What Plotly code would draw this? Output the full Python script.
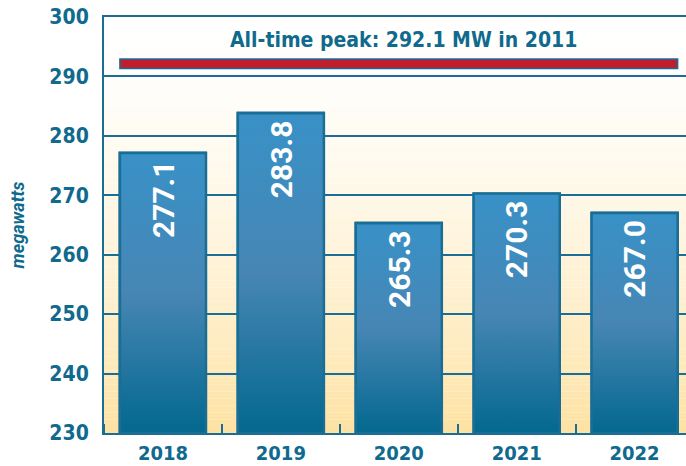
import plotly.graph_objects as go

years = ["2018", "2019", "2020", "2021", "2022"]
peak_mw = [277.1, 283.8, 265.3, 270.3, 267.0]
y_ticks = [230, 240, 250, 260, 270, 280, 290, 300]
all_time_peak = 292.1
all_time_peak_year = "2011"

TEAL = "#0f6a8e"
EDGE = "#1a6e95"
BAR_W = 0.73
Y_MIN, Y_MAX = 230, 300
COND = "DejaVu Sans Condensed, DejaVu Sans, sans-serif"

fig = go.Figure()

xs = list(range(len(years)))
fig.add_trace(go.Bar(
    x=xs, y=peak_mw, width=BAR_W,
    marker=dict(color="#2f7fae", line=dict(color=EDGE, width=2.5)),
    hoverinfo="skip", showlegend=False,
))

for i, v in enumerate(peak_mw):
    x0, x1 = i - BAR_W / 2, i + BAR_W / 2
    fig.add_trace(go.Scatter(
        x=[x0, x1, x1, x0, x0], y=[Y_MIN, Y_MIN, v, v, Y_MIN],
        mode="lines", fill="toself",
        fillgradient=dict(type="vertical",
                          colorscale=[[0, "#03688f"], [0.5, "#4786b4"], [1, "#3891c7"]]),
        line=dict(color=EDGE, width=2.5),
        hoverinfo="skip", showlegend=False,
    ))

for i, v in enumerate(peak_mw):
    fig.add_annotation(
        x=i, y=v, text=f"{v:.1f}", textangle=-90, showarrow=False,
        yanchor="top", xanchor="center", yshift=-5,
        font=dict(family="Roboto", size=30, color="white", weight="bold"),
    )

N = 60
top = (255, 255, 255)
bot = (254, 226, 163)
for k in range(N):
    t = (k + 0.5) / N
    w = t ** 1.6
    c = tuple(round(top[j] + (bot[j] - top[j]) * w) for j in range(3))
    fig.add_shape(type="rect", xref="x domain", yref="y domain",
                  x0=0, x1=1, y0=1 - (k + 1) / N, y1=1 - k / N,
                  fillcolor=f"rgb{c}", line=dict(width=0), layer="below")

fig.add_shape(type="rect", xref="x", yref="y",
              x0=-BAR_W / 2, x1=len(years) - 1 + BAR_W / 2,
              y0=all_time_peak - 0.75, y1=all_time_peak + 0.85,
              fillcolor="#be1e2d", line=dict(color=EDGE, width=1.5), layer="above")
fig.add_annotation(
    x=(len(years) - 1) / 2 + 0.04, y=all_time_peak + 0.85, yanchor="bottom", yshift=5,
    text=f"All-time peak: {all_time_peak} MW in {all_time_peak_year}",
    showarrow=False,
    font=dict(family=COND, size=21, color=TEAL, weight="bold"),
)

fig.update_layout(
    width=686, height=466,
    margin=dict(l=104, r=0, t=17, b=33),
    paper_bgcolor="white", plot_bgcolor="white",
    bargap=0, showlegend=False,
    xaxis=dict(
        range=[-0.5, 4.436], tickvals=xs, ticktext=years,
        showgrid=False, zeroline=False, automargin=False,
        showline=True, linecolor=EDGE, linewidth=2, mirror=True,
        ticks="",
        minor=dict(tickvals=[i - 0.5 for i in range(len(years) + 1)],
                   ticks="inside", ticklen=9, tickcolor=EDGE, tickwidth=1.5),
        tickfont=dict(family=COND, size=20, color=TEAL, weight="bold"),
        ticklabelstandoff=1,
    ),
    yaxis=dict(
        range=[Y_MIN, Y_MAX], tickvals=y_ticks,
        showgrid=True, gridcolor=EDGE, gridwidth=1.5, automargin=False,
        zeroline=False, showline=True, linecolor=EDGE, linewidth=2,
        ticks="", ticklabelstandoff=9,
        tickfont=dict(family=COND, size=21, color=TEAL, weight="bold"),
        title=dict(text="megawatts", standoff=20,
                   font=dict(family="Roboto", size=18, color=TEAL, weight="bold", style="italic")),
    ),
)

fig.write_html("out.html", config={"displayModeBar": False},
               post_script="document.body.style.margin='0';")
